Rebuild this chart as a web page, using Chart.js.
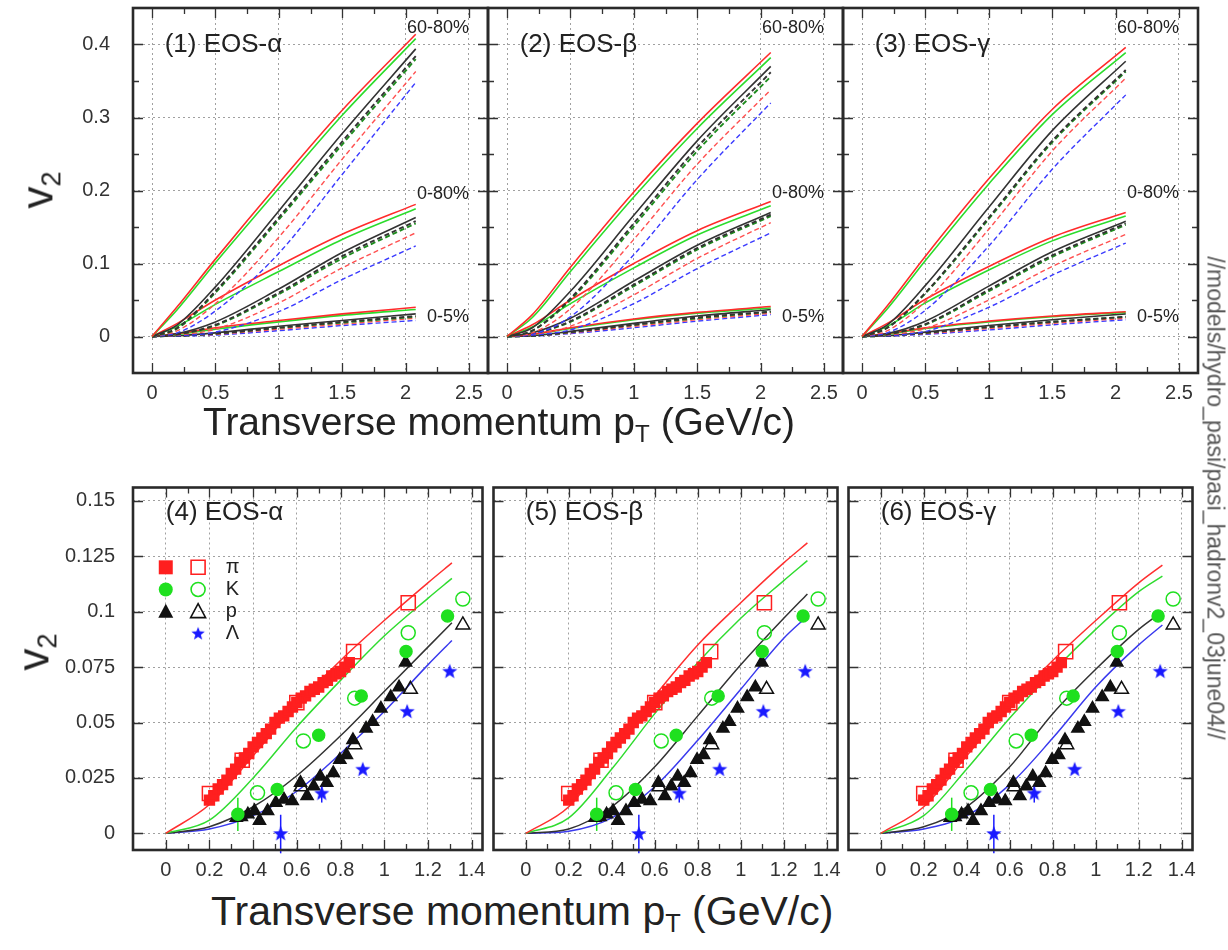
<!DOCTYPE html>
<html>
<head>
<meta charset="utf-8">
<title>v2 vs pT - hydro EOS comparison</title>
<script src="https://cdn.jsdelivr.net/npm/chart.js@4.4.0/dist/chart.umd.min.js"></script>
<style>
  html, body { margin: 0; padding: 0; background: #fff; }
  #page { position: relative; width: 1228px; height: 950px; overflow: hidden;
          font-family: "Liberation Sans", Arial, Helvetica, sans-serif; color: #222; }
  #page canvas { position: absolute; }
  .lbl { position: absolute; white-space: nowrap; }
  .vt { font-size: 44px; transform: translate(-50%, -50%) rotate(-90deg); }
  .vt sub, .xt sub { font-size: 0.62em; vertical-align: -0.3em; }
  .xt { transform: translateY(-50%); }
  .path { font-size: 23px; color: #555; transform: translate(-50%, -50%) rotate(90deg); }
</style>
</head>
<body>
<div id="page">
  <canvas id="p1" width="494" height="410" style="left:0;top:0"></canvas>
  <canvas id="p2" width="367" height="410" style="left:482px;top:0"></canvas>
  <canvas id="p3" width="367" height="410" style="left:837px;top:0"></canvas>
  <canvas id="p4" width="494" height="411" style="left:0;top:476px"></canvas>
  <canvas id="p5" width="367" height="411" style="left:482px;top:476px"></canvas>
  <canvas id="p6" width="367" height="411" style="left:837px;top:476px"></canvas>

  <div class="lbl vt" style="left:40px;top:190px">v<sub>2</sub></div>
  <div class="lbl vt" style="left:36px;top:652px">v<sub>2</sub></div>
  <div class="lbl xt" style="left:203px;top:424px;font-size:39px">Transverse momentum p<sub>T</sub> (GeV/c)</div>
  <div class="lbl xt" style="left:211px;top:913px;font-size:41px">Transverse momentum p<sub>T</sub> (GeV/c)</div>
  <div class="lbl path" style="left:1215px;top:498px">//models/hydro_pasi/pasi_hadronv2_03june04//</div>
</div>

<script>
'use strict';

// ---- axes ----
const topXTicks = [0, 0.5, 1, 1.5, 2, 2.5];
const topXLabels = ['0', '0.5', '1', '1.5', '2', '2.5'];
const topXMinor = [0.25, 0.75, 1.25, 1.75, 2.25];
const topYTicks = [0, 0.1, 0.2, 0.3, 0.4];
const topYLabels = ['0', '0.1', '0.2', '0.3', '0.4'];
const topYMinor = [0.05, 0.15, 0.25, 0.35];

const botXTicks = [0, 0.2, 0.4, 0.6, 0.8, 1, 1.2, 1.4];
const botXLabels = ['0', '0.2', '0.4', '0.6', '0.8', '1', '1.2', '1.4'];
const botXMinor = [0.1, 0.3, 0.5, 0.7, 0.9, 1.1, 1.3];
const botYTicks = [0, 0.025, 0.05, 0.075, 0.1, 0.125, 0.15];
const botYLabels = ['0', '0.025', '0.05', '0.075', '0.1', '0.125', '0.15'];

// ---- hydro curves, upper row ----
// rows: red, green, black (solid), then black, green, red, blue (dashed)
const pTcurve = [0, 0.2, 0.5, 1.0, 1.5, 2.08];

const alpha6080 = [
  [0, 0.041, 0.106, 0.210, 0.310, 0.414],
  [0, 0.037, 0.101, 0.203, 0.303, 0.408],
  [0, 0.016, 0.068, 0.172, 0.278, 0.394],
  [0, 0.012, 0.062, 0.163, 0.267, 0.384],
  [0, 0.011, 0.060, 0.160, 0.263, 0.380],
  [0, 0.008, 0.045, 0.136, 0.243, 0.363],
  [0, 0.005, 0.035, 0.114, 0.222, 0.348]
];
const alpha080 = [
  [0, 0.018, 0.050, 0.097, 0.140, 0.181],
  [0, 0.014, 0.044, 0.089, 0.133, 0.175],
  [0, 0.004, 0.020, 0.065, 0.115, 0.163],
  [0, 0.003, 0.016, 0.060, 0.110, 0.158],
  [0, 0.003, 0.015, 0.058, 0.107, 0.155],
  [0, 0.002, 0.010, 0.046, 0.094, 0.142],
  [0, 0.001, 0.006, 0.034, 0.078, 0.124]
];
const alpha05 = [
  [0, 0.004, 0.012, 0.022, 0.031, 0.040],
  [0, 0.003, 0.010, 0.020, 0.029, 0.037],
  [0, 0.001, 0.005, 0.014, 0.022, 0.031],
  [0, 0.001, 0.004, 0.012, 0.020, 0.028],
  [0, 0.001, 0.004, 0.012, 0.019, 0.027],
  [0, 0.001, 0.003, 0.010, 0.017, 0.025],
  [0, 0.0005, 0.002, 0.008, 0.015, 0.022]
];

const beta6080 = [
  [0, 0.030, 0.095, 0.198, 0.292, 0.389],
  [0, 0.026, 0.089, 0.191, 0.285, 0.382],
  [0, 0.012, 0.062, 0.166, 0.268, 0.370],
  [0, 0.008, 0.052, 0.155, 0.259, 0.362],
  [0, 0.008, 0.050, 0.151, 0.254, 0.356],
  [0, 0.005, 0.038, 0.133, 0.236, 0.338],
  [0, 0.003, 0.027, 0.112, 0.215, 0.320]
];
const beta080 = [
  [0, 0.016, 0.050, 0.100, 0.145, 0.185],
  [0, 0.013, 0.045, 0.094, 0.139, 0.179],
  [0, 0.005, 0.025, 0.076, 0.125, 0.170],
  [0, 0.004, 0.021, 0.071, 0.121, 0.167],
  [0, 0.004, 0.020, 0.069, 0.119, 0.165],
  [0, 0.003, 0.014, 0.057, 0.107, 0.156],
  [0, 0.002, 0.009, 0.045, 0.093, 0.142]
];
const beta05 = [
  [0, 0.003, 0.012, 0.024, 0.033, 0.041],
  [0, 0.003, 0.011, 0.023, 0.032, 0.039],
  [0, 0.001, 0.007, 0.018, 0.028, 0.037],
  [0, 0.001, 0.006, 0.016, 0.026, 0.034],
  [0, 0.001, 0.006, 0.016, 0.025, 0.034],
  [0, 0.001, 0.005, 0.014, 0.023, 0.032],
  [0, 0.0005, 0.004, 0.012, 0.021, 0.030]
];

const gamma6080 = [
  [0, 0.042, 0.110, 0.216, 0.311, 0.396],
  [0, 0.038, 0.104, 0.209, 0.304, 0.389],
  [0, 0.016, 0.070, 0.177, 0.282, 0.377],
  [0, 0.012, 0.060, 0.163, 0.268, 0.365],
  [0, 0.012, 0.059, 0.161, 0.266, 0.363],
  [0, 0.008, 0.048, 0.147, 0.254, 0.354],
  [0, 0.005, 0.036, 0.124, 0.229, 0.331]
];
const gamma080 = [
  [0, 0.018, 0.051, 0.096, 0.136, 0.170],
  [0, 0.014, 0.046, 0.091, 0.131, 0.165],
  [0, 0.004, 0.021, 0.069, 0.116, 0.158],
  [0, 0.003, 0.017, 0.064, 0.111, 0.155],
  [0, 0.003, 0.016, 0.062, 0.109, 0.153],
  [0, 0.002, 0.011, 0.050, 0.096, 0.140],
  [0, 0.001, 0.007, 0.040, 0.084, 0.128]
];
const gamma05 = [
  [0, 0.004, 0.012, 0.021, 0.028, 0.034],
  [0, 0.003, 0.011, 0.020, 0.027, 0.033],
  [0, 0.001, 0.006, 0.015, 0.023, 0.031],
  [0, 0.001, 0.005, 0.013, 0.020, 0.027],
  [0, 0.001, 0.005, 0.013, 0.020, 0.027],
  [0, 0.001, 0.004, 0.011, 0.018, 0.025],
  [0, 0.0005, 0.003, 0.009, 0.016, 0.023]
];

// ---- hydro curves, lower row: pi, K, p, Lambda ----
const pTmodel = [0, 0.2, 0.4, 0.6, 0.8, 1.0, 1.2, 1.31];
const modelAlpha = [
  [0, 0.013, 0.035, 0.058, 0.078, 0.096, 0.113, 0.122],
  [0, 0.006, 0.025, 0.048, 0.069, 0.089, 0.106, 0.115],
  [0, 0.003, 0.012, 0.026, 0.044, 0.064, 0.084, 0.095],
  [0, 0.002, 0.008, 0.019, 0.036, 0.055, 0.076, 0.087]
];
const modelBeta = [
  [0, 0.012, 0.037, 0.062, 0.085, 0.104, 0.122, 0.131],
  [0, 0.007, 0.029, 0.054, 0.077, 0.097, 0.114, 0.123],
  [0, 0.002, 0.012, 0.030, 0.053, 0.076, 0.097, 0.108],
  [0, 0.001, 0.007, 0.021, 0.042, 0.065, 0.088, 0.098]
];
const modelGamma = [
  [0, 0.012, 0.035, 0.058, 0.078, 0.096, 0.113, 0.121],
  [0, 0.008, 0.029, 0.052, 0.073, 0.092, 0.109, 0.116],
  [0, 0.003, 0.012, 0.030, 0.054, 0.074, 0.092, 0.100],
  [0, 0.002, 0.008, 0.022, 0.043, 0.066, 0.085, 0.094]
];

// ---- measured v2 ----
const piFilledPt = [0.20, 0.22, 0.24, 0.26, 0.28, 0.30, 0.32, 0.34, 0.36, 0.38, 0.40, 0.42, 0.44, 0.46, 0.48, 0.50, 0.52,
                    0.54, 0.56, 0.58, 0.60, 0.62, 0.64, 0.66, 0.68, 0.70, 0.72, 0.74, 0.76, 0.78, 0.80, 0.82, 0.84];
const piFilledV2 = [0.015, 0.017, 0.020, 0.022, 0.024, 0.027, 0.029, 0.032, 0.034, 0.036, 0.039, 0.041, 0.043, 0.045, 0.047, 0.050, 0.052,
                    0.053, 0.055, 0.057, 0.059, 0.061, 0.062, 0.064, 0.065, 0.066, 0.068, 0.069, 0.071, 0.072, 0.073, 0.075, 0.077];
const piOpenPt = [0.20, 0.35, 0.60, 0.86, 1.11];
const piOpenV2 = [0.018, 0.033, 0.059, 0.082, 0.104];

const kFilledPt = [0.33, 0.51, 0.70, 0.895, 1.10, 1.29];
const kFilledV2 = [0.0086, 0.0198, 0.0443, 0.062, 0.082, 0.098];
const kFilledErr = [0.0075, 0, 0, 0, 0, 0];
const kOpenPt = [0.42, 0.63, 0.865, 1.11, 1.36];
const kOpenV2 = [0.0183, 0.0417, 0.061, 0.0905, 0.1057];

const pFilledPt = [0.323, 0.346, 0.376, 0.406, 0.429, 0.466, 0.504, 0.541, 0.579, 0.617, 0.647, 0.677,
                   0.707, 0.737, 0.767, 0.797, 0.827, 0.857, 0.917, 0.947, 0.985, 1.03, 1.068, 1.098];
const pFilledV2 = [0.0071, 0.0074, 0.0086, 0.0101, 0.0057, 0.0101, 0.0138, 0.0153, 0.0146, 0.0228, 0.0168, 0.0213,
                   0.0257, 0.0228, 0.0272, 0.0332, 0.0354, 0.0421, 0.0473, 0.0503, 0.0563, 0.0615, 0.0659, 0.0771];
const pOpenPt = [0.62, 0.865, 1.12, 1.36];
const pOpenV2 = [0.021, 0.040, 0.065, 0.094];

const lamPt = [0.526, 0.714, 0.902, 1.105, 1.30];
const lamV2 = [-0.0003, 0.0179, 0.0287, 0.0548, 0.0729];
const lamErr = [0.0087, 0.004, 0, 0, 0];

// ---- styles ----
const FONT = '"Liberation Sans", Arial, Helvetica, sans-serif';
const RED = '#ff1f1f', GREEN = '#1fe01f', BLACK = '#111111', BLUE = '#1a1aff';
const curveColors = ['#ff2a2a', '#2bdc2b', '#333333', '#333333', '#1e8c1e', '#ff5050', '#3a3aff'];
const curveDash = [[], [], [], [5, 3], [5, 3], [5, 3], [5, 3]];
const curveWidth = [1.6, 1.6, 1.6, 1.9, 1.9, 1.4, 1.4];
const modelColors = ['#ff3030', '#30dc30', '#333333', '#3a3aee'];

function starImage(r, color) {
  const c = document.createElement('canvas');
  c.width = c.height = Math.ceil(2 * r + 2);
  const g = c.getContext('2d');
  const cx = c.width / 2, cy = c.height / 2;
  g.beginPath();
  for (let i = 0; i < 10; i++) {
    const rr = i % 2 ? r * 0.42 : r;
    const a = -Math.PI / 2 + i * Math.PI / 5;
    g.lineTo(cx + rr * Math.cos(a), cy + rr * Math.sin(a));
  }
  g.closePath();
  g.fillStyle = color;
  g.fill();
  return c;
}
const STAR = starImage(8, BLUE);
const STAR_SMALL = starImage(7, BLUE);

// ---- plugins ----
// inner tick marks on all four sides plus the heavy frame
const framePlugin = {
  id: 'frame',
  afterDraw(chart, args, o) {
    const { ctx, chartArea: a, scales: { x, y } } = chart;
    ctx.save();
    ctx.strokeStyle = '#333';
    ctx.lineWidth = 1.3;
    ctx.beginPath();
    const xt = (vals, len) => vals.forEach(v => {
      const px = Math.round(x.getPixelForValue(v)) + 0.5;
      ctx.moveTo(px, a.bottom); ctx.lineTo(px, a.bottom - len);
      ctx.moveTo(px, a.top); ctx.lineTo(px, a.top + len);
    });
    const yt = (vals, len) => vals.forEach(v => {
      const py = Math.round(y.getPixelForValue(v)) + 0.5;
      ctx.moveTo(a.left, py); ctx.lineTo(a.left + len, py);
      ctx.moveTo(a.right, py); ctx.lineTo(a.right - len, py);
    });
    xt(o.xMajor, 10); xt(o.xMinor, 6);
    yt(o.yMajor, 10); yt(o.yMinor || [], 6);
    ctx.stroke();
    ctx.lineWidth = 2.6;
    ctx.strokeStyle = '#2a2a2a';
    ctx.strokeRect(a.left, a.top, a.right - a.left, a.bottom - a.top);
    ctx.restore();
  }
};

// vertical error bars for datasets that carry yErr
const errorBarPlugin = {
  id: 'errbars',
  beforeDatasetsDraw(chart) {
    const { ctx, scales: { x, y } } = chart;
    ctx.save();
    chart.data.datasets.forEach(ds => {
      if (!ds.yErr) return;
      ctx.strokeStyle = ds.borderColor;
      ctx.lineWidth = 1.5;
      ds.data.forEach((p, i) => {
        const e = ds.yErr[i];
        if (!e) return;
        const px = x.getPixelForValue(p.x);
        ctx.beginPath();
        ctx.moveTo(px, y.getPixelForValue(p.y - e));
        ctx.lineTo(px, y.getPixelForValue(p.y + e));
        ctx.stroke();
      });
    });
    ctx.restore();
  }
};

// panel captions placed in data coordinates
const notesPlugin = {
  id: 'notes',
  afterDatasetsDraw(chart, args, o) {
    const { ctx, scales: { x, y } } = chart;
    ctx.save();
    ctx.textBaseline = 'middle';
    (o.items || []).forEach(n => {
      ctx.font = n.size + 'px ' + FONT;
      ctx.fillStyle = n.color || '#222';
      ctx.textAlign = n.align || 'left';
      ctx.fillText(n.text, x.getPixelForValue(n.x), y.getPixelForValue(n.y));
    });
    ctx.restore();
  }
};

// species key drawn in the first lower panel
const keyPlugin = {
  id: 'key',
  afterDatasetsDraw(chart, args, o) {
    if (!o.rows) return;
    const { ctx, scales: { x, y } } = chart;
    ctx.save();
    o.rows.forEach(r => {
      const py = y.getPixelForValue(r.y);
      if (r.filled) marker(ctx, r.shape, x.getPixelForValue(o.xFilled), py, r.color, true);
      if (r.open) marker(ctx, r.shape, x.getPixelForValue(o.xOpen), py, r.color, false);
      ctx.font = '20px ' + FONT;
      ctx.fillStyle = '#222';
      ctx.textAlign = 'left';
      ctx.textBaseline = 'middle';
      ctx.fillText(r.text, x.getPixelForValue(o.xText), py);
    });
    ctx.restore();
  }
};

function marker(ctx, shape, px, py, color, filled) {
  ctx.fillStyle = color;
  ctx.strokeStyle = color;
  ctx.lineWidth = 1.6;
  if (shape === 'star') { ctx.drawImage(STAR_SMALL, px - STAR_SMALL.width / 2, py - STAR_SMALL.height / 2); return; }
  ctx.beginPath();
  if (shape === 'rect') ctx.rect(px - 7, py - 7, 14, 14);
  else if (shape === 'circle') ctx.arc(px, py, 7, 0, Math.PI * 2);
  else { ctx.moveTo(px, py - 8); ctx.lineTo(px + 7.5, py + 6); ctx.lineTo(px - 7.5, py + 6); ctx.closePath(); }
  if (filled) ctx.fill(); else ctx.stroke();
}

// ---- chart builders ----
function zeroPad(s) { s.paddingLeft = 0; s.paddingRight = 0; s.paddingTop = 0; s.paddingBottom = 0; }

function axisX(range, ticks, labels) {
  return {
    type: 'linear', min: range[0], max: range[1],
    afterBuildTicks: s => { s.ticks = ticks.map(v => ({ value: v })); },
    afterFit: s => { s.height = 37; zeroPad(s); },
    ticks: { callback: (v, i) => labels[i], font: { family: FONT, size: 20 }, color: '#333', padding: 8, maxRotation: 0, autoSkip: false },
    grid: { color: '#a0a0a0', lineWidth: 1, drawTicks: false },
    border: { display: false, dash: [2, 3] }
  };
}

function axisY(range, ticks, labels, width, pad) {
  return {
    type: 'linear', min: range[0], max: range[1],
    afterBuildTicks: s => { s.ticks = ticks.map(v => ({ value: v })); },
    afterFit: s => { s.width = width; zeroPad(s); },
    ticks: { display: width > 0, callback: (v, i) => labels[i], font: { family: FONT, size: 20 }, color: '#333', padding: pad },
    grid: { color: '#a0a0a0', lineWidth: 1, drawTicks: false },
    border: { display: false, dash: [2, 3] }
  };
}

function makePanel(id, cfg) {
  new Chart(document.getElementById(id), {
    type: 'line',
    data: { datasets: cfg.datasets },
    options: {
      responsive: false,
      animation: false,
      events: [],
      layout: { padding: { left: cfg.first ? 0 : 6, right: 6, top: 8, bottom: 0 } },
      plugins: {
        legend: { display: false },
        tooltip: { enabled: false },
        frame: cfg.frame,
        notes: { items: cfg.notes },
        key: cfg.key || {}
      },
      scales: {
        x: axisX(cfg.xRange, cfg.xTicks, cfg.xLabels),
        y: axisY(cfg.yRange, cfg.yTicks, cfg.yLabels, cfg.first ? 133 : 0, cfg.yPad)
      }
    },
    plugins: [errorBarPlugin, notesPlugin, keyPlugin, framePlugin]
  });
}

function curveSets(groups) {
  const sets = [];
  groups.forEach(group => group.forEach((vals, i) => sets.push({
    data: pTcurve.map((p, k) => ({ x: p, y: vals[k] })),
    borderColor: curveColors[i],
    borderDash: curveDash[i],
    borderWidth: curveWidth[i],
    pointRadius: 0,
    cubicInterpolationMode: 'monotone'
  })));
  return sets;
}

function pts(xs, ys) { return xs.map((x, i) => ({ x, y: ys[i] })); }

function pointSet(xs, ys, style, color, radius, filled, extra) {
  return Object.assign({
    data: pts(xs, ys),
    showLine: false,
    pointStyle: style,
    pointRadius: radius,
    pointBorderWidth: 1.5,
    borderColor: color,
    pointBorderColor: color,
    pointBackgroundColor: filled ? color : 'rgba(0,0,0,0)'
  }, extra || {});
}

function lowerSets(model) {
  const marks = [
    pointSet(lamPt, lamV2, STAR, BLUE, 8, true, { yErr: lamErr }),
    pointSet(piOpenPt, piOpenV2, 'rect', RED, 10, false),
    pointSet(kOpenPt, kOpenV2, 'circle', GREEN, 7, false),
    pointSet(pOpenPt, pOpenV2, 'triangle', BLACK, 8, false),
    pointSet(kFilledPt, kFilledV2, 'circle', GREEN, 6, true, { yErr: kFilledErr }),
    pointSet(pFilledPt, pFilledV2, 'triangle', BLACK, 7, true),
    pointSet(piFilledPt, piFilledV2, 'rect', RED, 7, true)
  ];
  const lines = model.map((vals, i) => ({
    data: pts(pTmodel, vals),
    borderColor: modelColors[i],
    borderWidth: 1.5,
    pointRadius: 0,
    cubicInterpolationMode: 'monotone'
  }));
  return marks.concat(lines);
}

const topFrame = { xMajor: topXTicks, xMinor: topXMinor, yMajor: topYTicks, yMinor: topYMinor };
const botFrame = { xMajor: botXTicks, xMinor: botXMinor, yMajor: botYTicks, yMinor: [] };
const topRange = { xRange: [-0.15, 2.65], yRange: [-0.05, 0.45], xTicks: topXTicks, xLabels: topXLabels, yTicks: topYTicks, yLabels: topYLabels, yPad: 23, frame: topFrame };
const botRange = { xRange: [-0.15, 1.45], yRange: [-0.0075, 0.156], xTicks: botXTicks, xLabels: botXLabels, yTicks: botYTicks, yLabels: botYLabels, yPad: 18, frame: botFrame };

function centralityNotes(title, y080) {
  return [
    { text: title, x: 0.10, y: 0.40, size: 26 },
    { text: '60-80%', x: 2.5, y: 0.423, size: 18, align: 'right' },
    { text: '0-80%', x: 2.5, y: y080, size: 18, align: 'right' },
    { text: '0-5%', x: 2.5, y: 0.026, size: 18, align: 'right' }
  ];
}

makePanel('p1', Object.assign({ first: true, datasets: curveSets([alpha6080, alpha080, alpha05]), notes: centralityNotes('(1) EOS-\u03b1', 0.195) }, topRange));
makePanel('p2', Object.assign({ datasets: curveSets([beta6080, beta080, beta05]), notes: centralityNotes('(2) EOS-\u03b2', 0.197) }, topRange));
makePanel('p3', Object.assign({ datasets: curveSets([gamma6080, gamma080, gamma05]), notes: centralityNotes('(3) EOS-\u03b3', 0.197) }, topRange));

const speciesKey = {
  xFilled: 0, xOpen: 0.148, xText: 0.275,
  rows: [
    { y: 0.120, shape: 'rect', color: RED, filled: true, open: true, text: '\u03c0' },
    { y: 0.110, shape: 'circle', color: GREEN, filled: true, open: true, text: 'K' },
    { y: 0.100, shape: 'triangle', color: BLACK, filled: true, open: true, text: 'p' },
    { y: 0.090, shape: 'star', color: BLUE, filled: false, open: true, text: '\u039b' }
  ]
};

makePanel('p4', Object.assign({ first: true, datasets: lowerSets(modelAlpha), notes: [{ text: '(4) EOS-\u03b1', x: 0.0, y: 0.1445, size: 26 }], key: speciesKey }, botRange));
makePanel('p5', Object.assign({ datasets: lowerSets(modelBeta), notes: [{ text: '(5) EOS-\u03b2', x: 0.0, y: 0.1445, size: 26 }] }, botRange));
makePanel('p6', Object.assign({ datasets: lowerSets(modelGamma), notes: [{ text: '(6) EOS-\u03b3', x: 0.0, y: 0.1445, size: 26 }] }, botRange));
</script>
</body>
</html>
